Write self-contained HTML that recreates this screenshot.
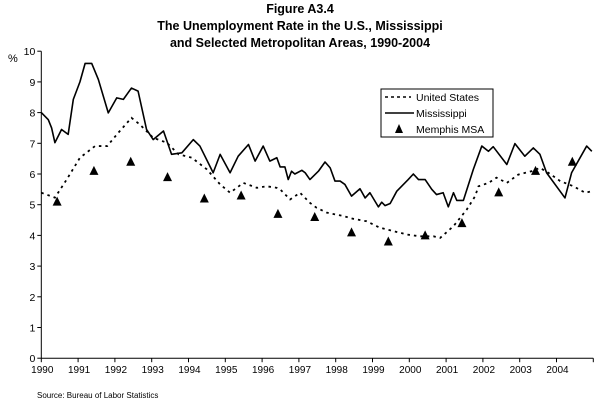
<!DOCTYPE html>
<html><head><meta charset="utf-8"><style>
body{margin:0;background:#fff;font-family:"Liberation Sans",Arial,sans-serif;}
svg text{font-family:"Liberation Sans",Arial,sans-serif;}
</style></head><body>
<svg id="chart" width="600" height="404" viewBox="0 0 600 404" xmlns="http://www.w3.org/2000/svg">
<g font-weight="bold" font-size="12.5" text-anchor="middle" fill="#000">
<text x="300" y="13">Figure A3.4</text>
<text x="300" y="30">The Unemployment Rate in the U.S., Mississippi</text>
<text x="300" y="47">and Selected Metropolitan Areas, 1990-2004</text>
</g>
<text x="8" y="62" font-size="11">%</text>
<g id="axes"></g>
<g id="series"></g>
<g>
<rect x="381" y="89" width="112" height="48" fill="#fff" stroke="#000" stroke-width="1"/>
<line x1="385" y1="97" x2="411" y2="97" stroke="#000" stroke-width="1.6" stroke-dasharray="3,3"/>
<text x="416" y="101" font-size="10.5">United States</text>
<line x1="385" y1="113" x2="414" y2="113" stroke="#000" stroke-width="1.6"/>
<text x="416" y="117" font-size="10.5">Mississippi</text>
<polygon points="399,124 395,133 403,133" fill="#000"/>
<text x="416" y="133" font-size="10.5">Memphis MSA</text>
</g>
<text x="37" y="398" font-size="8">Source: Bureau of Labor Statistics</text>
</svg>
<script>
const yTicks=[0,1,2,3,4,5,6,7,8,9,10];
const xTickYears=[1990,1991,1992,1993,1994,1995,1996,1997,1998,1999,2000,2001,2002,2003,2004];
const msYears=[1990.0,1990.19,1990.28,1990.37,1990.55,1990.73,1990.87,1991.05,1991.19,1991.37,1991.55,1991.82,1992.05,1992.23,1992.45,1992.63,1992.86,1993.04,1993.32,1993.54,1993.82,1994.13,1994.31,1994.67,1994.86,1995.13,1995.35,1995.63,1995.81,1996.03,1996.21,1996.4,1996.49,1996.62,1996.71,1996.8,1996.89,1997.08,1997.17,1997.3,1997.53,1997.71,1997.85,1997.98,1998.12,1998.25,1998.43,1998.66,1998.8,1998.93,1999.16,1999.25,1999.34,1999.48,1999.66,1999.79,1999.97,2000.11,2000.25,2000.43,2000.61,2000.74,2000.92,2001.06,2001.2,2001.29,2001.47,2001.74,2001.97,2002.15,2002.28,2002.65,2002.87,2003.14,2003.37,2003.55,2003.73,2004.23,2004.41,2004.82,2004.96];
const msValues=[8.0,7.77,7.5,7.02,7.45,7.29,8.43,9.0,9.6,9.6,9.08,7.99,8.48,8.43,8.8,8.7,7.45,7.12,7.4,6.64,6.69,7.12,6.91,6.04,6.64,6.04,6.58,6.96,6.42,6.91,6.42,6.53,6.23,6.23,5.82,6.09,6.0,6.12,6.04,5.82,6.09,6.39,6.2,5.77,5.77,5.66,5.28,5.52,5.22,5.39,4.93,5.08,4.97,5.04,5.44,5.6,5.82,6.0,5.82,5.82,5.5,5.33,5.39,4.93,5.39,5.14,5.14,6.15,6.91,6.74,6.89,6.31,6.99,6.58,6.85,6.64,6.04,5.22,6.04,6.91,6.74];
const usYears=[1990.0,1990.37,1990.69,1991.05,1991.46,1991.79,1992.09,1992.45,1992.68,1993.04,1993.41,1993.73,1994.09,1994.5,1994.86,1995.13,1995.49,1995.86,1996.12,1996.4,1996.49,1996.76,1997.03,1997.3,1997.48,1997.76,1998.21,1998.48,1998.84,1999.2,1999.57,1999.93,2000.29,2000.66,2000.84,2001.2,2001.56,2001.79,2001.88,2002.15,2002.37,2002.65,2002.96,2003.32,2003.55,2003.78,2004.1,2004.46,2004.78,2004.96];
const usValues=[5.39,5.23,5.82,6.53,6.91,6.91,7.34,7.83,7.61,7.18,7.02,6.64,6.53,6.15,5.66,5.39,5.71,5.55,5.6,5.55,5.5,5.17,5.39,5.06,4.9,4.74,4.63,4.54,4.46,4.25,4.14,4.03,3.97,3.97,3.92,4.3,4.84,5.28,5.6,5.71,5.88,5.71,5.98,6.09,6.2,6.04,5.77,5.6,5.39,5.44];
const memYears=[1990.43,1991.43,1992.43,1993.43,1994.43,1995.43,1996.43,1997.43,1998.43,1999.43,2000.43,2001.43,2002.43,2003.43,2004.43];
const memValues=[5.1,6.1,6.4,5.9,5.2,5.3,4.7,4.6,4.1,3.8,4.0,4.4,5.4,6.1,6.4];

const NS='http://www.w3.org/2000/svg';
const x0=41.3,yrW=36.8,yZero=358.2,unit=30.7;
function sx(y){return x0+(y-1990)*yrW;}
function sy(v){return yZero-v*unit;}
function mk(tag,attrs,parent){const e=document.createElementNS(NS,tag);for(const k in attrs)e.setAttribute(k,attrs[k]);parent.appendChild(e);return e;}
const axes=document.getElementById('axes'),series=document.getElementById('series');
const ya=mk('line',{x1:x0,y1:sy(10),x2:x0,y2:yZero,stroke:'#000','stroke-width':1},axes);


const xa=mk('line',{x1:x0,y1:yZero,x2:sx(2005),y2:yZero,stroke:'#000','stroke-width':1},axes);


yTicks.forEach(v=>{
 mk('line',{x1:x0-4,y1:sy(v),x2:x0,y2:sy(v),stroke:'#000'},axes);
 const t=mk('text',{x:x0-6,y:sy(v)+4,'font-size':10.5,'text-anchor':'end'},axes);t.textContent=v;
 
 
});
xTickYears.concat([2005]).forEach(y=>{mk('line',{x1:sx(y),y1:yZero,x2:sx(y),y2:yZero+4,stroke:'#000'},axes);});
xTickYears.forEach(y=>{
 const t=mk('text',{x:sx(y)+1,y:yZero+15,'font-size':10,'text-anchor':'middle'},axes);t.textContent=y;
 
 
});
const us=mk('polyline',{points:usYears.map((y,i)=>sx(y)+','+sy(usValues[i])).join(' '),fill:'none',stroke:'#000','stroke-width':1.8,'stroke-dasharray':'2.5,4'},series);


const ms=mk('polyline',{points:msYears.map((y,i)=>sx(y)+','+sy(msValues[i])).join(' '),fill:'none',stroke:'#000','stroke-width':1.6,'stroke-linejoin':'round'},series);


memYears.forEach((y,i)=>{
 const cx=sx(y),cy=sy(memValues[i]);
 const p=mk('polygon',{points:`${cx},${cy-5} ${cx-4.5},${cy+4} ${cx+4.5},${cy+4}`,fill:'#000'},series);
 
 
});
</script>
</body></html>
